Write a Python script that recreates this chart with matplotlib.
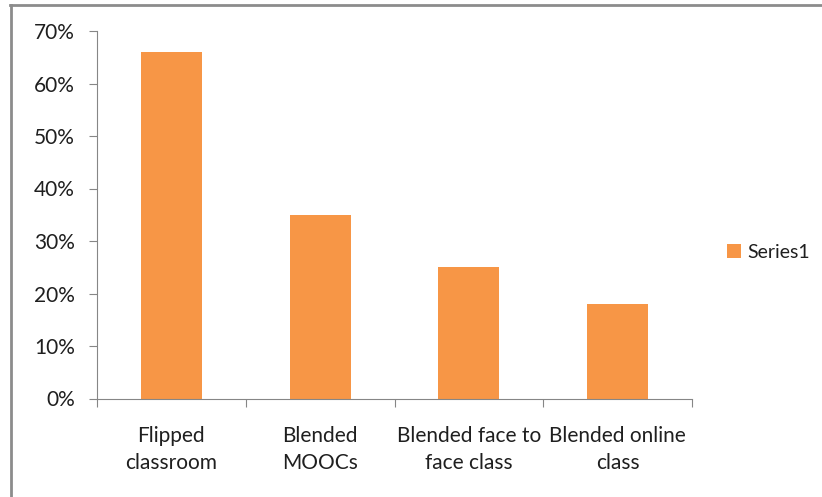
import numpy as np
import matplotlib.pyplot as plt
from matplotlib.lines import Line2D
from matplotlib.ticker import PercentFormatter

# Data
categories = ['Flipped\nclassroom', 'Blended\nMOOCs', 'Blended face to\nface class',
              'Blended online\nclass']
values = [66, 35, 25, 18]          # [%]
y_ticks = np.arange(0, 71, 10)

plt.rcParams['font.family'] = ['Lato', 'DejaVu Sans']

fig = plt.figure(figsize=(8.22, 4.97), dpi=100)
ax = fig.add_axes([97 / 822, 1 - 398.5 / 497, 595 / 822, 367.5 / 497])

x = np.arange(len(categories))
ax.bar(x, values, width=0.41, color='#F79646', label='Series1', zorder=2)

ax.set_xlim(-0.5, len(categories) - 0.5)
ax.set_ylim(0, 70)
ax.set_yticks(y_ticks)
ax.yaxis.set_major_formatter(PercentFormatter(decimals=0))

# x ticks sit between categories, labels at the centres
ax.set_xticks(np.arange(-0.5, len(categories)), minor=False)
ax.set_xticklabels([])
ax.set_xticks(x, minor=True)
ax.set_xticklabels(categories, minor=True, linespacing=1.42)
ax.tick_params(axis='x', which='minor', length=0, pad=20, labelsize=15, colors='#1F1F1F')
ax.tick_params(axis='x', which='major', length=6, color='#868686')
ax.tick_params(axis='y', length=6, color='#868686', labelsize=15, labelcolor='#1F1F1F', pad=10)

for side in ['top', 'right']:
    ax.spines[side].set_visible(False)
for side in ['left', 'bottom']:
    ax.spines[side].set_color('#868686')

leg = ax.legend(loc='center left', bbox_to_anchor=(727 / 822, 1 - 252 / 497),
                bbox_transform=fig.transFigure, frameon=False, fontsize=14,
                borderpad=0, borderaxespad=0,
                handlelength=0.7, handleheight=0.7, handletextpad=0.35)
for t in leg.get_texts():
    t.set_color('#1F1F1F')

# outer chart border (only left and top edges visible)
fig.add_artist(Line2D([10.5 / 822, 10.5 / 822], [0, 1 - 5 / 497],
                      transform=fig.transFigure, color='#8C8C8C', linewidth=2))
fig.add_artist(Line2D([10 / 822, 1], [1 - 5 / 497, 1 - 5 / 497],
                      transform=fig.transFigure, color='#8C8C8C', linewidth=2))

fig.savefig('out.png', dpi=100)
